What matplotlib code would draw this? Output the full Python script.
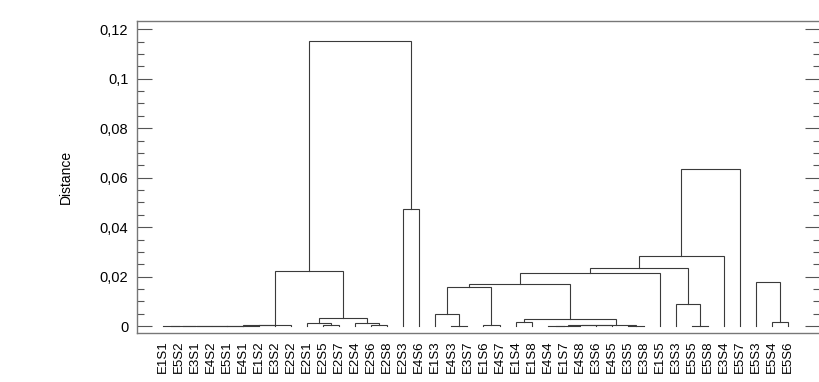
import matplotlib
matplotlib.use('Agg')
import matplotlib.pyplot as plt
from matplotlib.ticker import MultipleLocator, FuncFormatter

# leaves in the order they appear along the x axis
leaves = ['E1S1', 'E5S2', 'E3S1', 'E4S2', 'E5S1', 'E4S1', 'E1S2', 'E3S2', 'E2S2',
          'E2S1', 'E2S5', 'E2S7', 'E2S4', 'E2S6', 'E2S8', 'E2S3', 'E4S6',
          'E1S3', 'E4S3', 'E3S7', 'E1S6', 'E4S7', 'E1S4', 'E1S8', 'E4S4', 'E1S7',
          'E4S8', 'E3S6', 'E4S5', 'E3S5', 'E3S8', 'E1S5', 'E3S3', 'E5S5', 'E5S8',
          'E3S4', 'E5S7', 'E5S3', 'E5S4', 'E5S6']

# merges: node a, node b, distance (leaf = index, merge k = 40 + k)
merge_a = [0, 40, 41, 42, 43, 44, 45, 46,
           10, 9, 13, 12, 49, 47, 15, 53,
           18, 17, 20, 57, 22, 24, 61, 62, 63, 29, 64, 60, 59, 68, 33, 32, 69, 72, 73,
           38, 37]
merge_b = [1, 2, 3, 4, 5, 6, 7, 8,
           11, 48, 14, 50, 51, 52, 16, 54,
           19, 56, 21, 58, 23, 25, 26, 27, 28, 30, 65, 66, 67, 31, 34, 70, 71, 35, 36,
           39, 75]
merge_d = [0.0001, 0.0001, 0.0001, 0.0001, 0.0001, 0.0002, 0.0004, 0.0005,
           0.0003, 0.0012, 0.0003, 0.0012, 0.0032, 0.0223, 0.0472, 0.1151,
           0.0002, 0.0048, 0.0003, 0.0160, 0.0016, 0.0001, 0.0002, 0.0003, 0.0004,
           0.0001, 0.0005, 0.0028, 0.0169, 0.0214, 0.0002, 0.0090, 0.0234, 0.0284,
           0.0634,
           0.0016, 0.0180]


def comma(v, p):
    return f"{v:g}".replace('.', ',')


def dendro():
    plt.rcParams['font.family'] = ['Liberation Sans', 'DejaVu Sans']
    fig = plt.figure(figsize=(8.19, 3.82), dpi=100)
    # right frame edge sits just past the image border, as in the reference
    ax = fig.add_axes([0.1669, 0.1275, 0.8343, 0.8188])

    n = len(leaves)
    pos = {i: i for i in range(n)}
    hgt = {i: 0.0 for i in range(n)}
    for k, (a, b, d) in enumerate(zip(merge_a, merge_b, merge_d)):
        ax.plot([pos[a], pos[a], pos[b], pos[b]], [hgt[a], d, d, hgt[b]],
                color='#3a3a3a', lw=0.8, solid_joinstyle='miter')
        pos[n + k] = (pos[a] + pos[b]) / 2
        hgt[n + k] = d

    ax.set_xlim(-1.62, 40.98)
    ax.set_ylim(-0.0029, 0.1235)
    ax.set_xticks(range(n))
    ax.set_xticklabels(leaves, rotation=90, fontsize=9.5)
    ax.tick_params(axis='x', length=0, pad=5)

    ax.yaxis.set_major_locator(MultipleLocator(0.02))
    ax.yaxis.set_minor_locator(MultipleLocator(0.005))
    ax.yaxis.set_major_formatter(FuncFormatter(comma))
    ax.tick_params(axis='y', which='both', direction='in', left=True, right=True,
                   color='#555555', labelsize=10.5, pad=6)
    ax.tick_params(axis='y', which='major', length=10.5, width=0.8)
    ax.tick_params(axis='y', which='minor', length=5, width=0.8)

    for s in ax.spines.values():
        s.set_color('#777777')
        s.set_linewidth(1.0)

    ax.set_ylabel('Distance', fontsize=10)
    ax.yaxis.set_label_coords(-0.103, 0.5)
    ax.yaxis.label.set_va('center')

    fig.savefig('out.png', dpi=100)


if __name__ == "__main__":
    dendro()
